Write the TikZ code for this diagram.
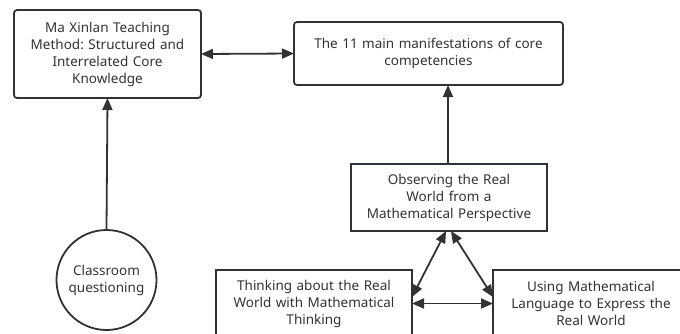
\documentclass[tikz,border=0pt]{standalone}
\usepackage{fontspec}
\setmainfont{Noto Sans}
\frenchspacing
\usetikzlibrary{arrows.meta,calc}
\definecolor{ink}{HTML}{2F3336}
\definecolor{txt}{HTML}{333333}
\tikzset{
  box/.style={draw=ink, line width=1.8pt, fill=white, align=center, text=txt,
    font=\fontsize{13.5}{17}\selectfont, inner sep=0pt, outer sep=0pt},
  rbox/.style={box, rounded corners=3pt},
  conn/.style={draw=ink, line width=1.8pt, -{Triangle[length=12pt,width=10pt]}},
  bconn/.style={draw=ink, line width=1.8pt, {Triangle[length=12pt,width=10pt]}-{Triangle[length=12pt,width=10pt]}}
}
\begin{document}
\begin{tikzpicture}[x=1pt,y=-1pt]
\useasboundingbox (0,0) rectangle (680,333);
\clip (0,0) rectangle (680,333);
\node[rbox, minimum width=187pt, minimum height=88pt, text width=184pt] (A) at (107.5,54)
  {Ma Xinlan Teaching\\Method: Structured and\\Interrelated Core\\Knowledge};
\node[rbox, minimum width=269pt, minimum height=63pt, text width=265pt] (B) at (428.5,53.5)
  {The 11 main manifestations of core\\competencies};
\node[box, minimum width=196pt, minimum height=67pt, text width=194pt] (C) at (449,197.5)
  {Observing the Real\\World from a\\Mathematical Perspective};
\node[box, minimum width=196pt, minimum height=67pt, text width=194pt] (D) at (314,303.5)
  {Thinking about the Real\\World with Mathematical\\Thinking};
\node[box, minimum width=196pt, minimum height=67pt, text width=194pt] (E) at (591,303.5)
  {Using Mathematical\\Language to Express the\\Real World};
\node[draw=ink, line width=1.8pt, circle, minimum size=100pt, inner sep=0pt, align=center, text=txt,
  font=\fontsize{13.5}{17}\selectfont] (F) at (106.5,280) {Classroom\\questioning};
\coordinate (Ct) at ($(C.north)+(-1,0)$);
\coordinate (Bb) at (Ct |- B.south);
\coordinate (Cl) at ($(C.south)+(-3,0)$);
\coordinate (Cr) at ($(C.south)+(2,0)$);
\coordinate (De) at ($(D.east)+(0,-6.5)$);
\coordinate (Ew) at ($(E.west)+(0,-6.5)$);
\draw[bconn] (A.east) -- (B.west);
\draw[conn] (F.north) -- (A.south);
\draw[conn] (Ct) -- (Bb);
\draw[bconn] (De) -- (Cl);
\draw[bconn] (Cr) -- (Ew);
\draw[bconn] (D.east) -- (E.west);
\end{tikzpicture}
\end{document}
